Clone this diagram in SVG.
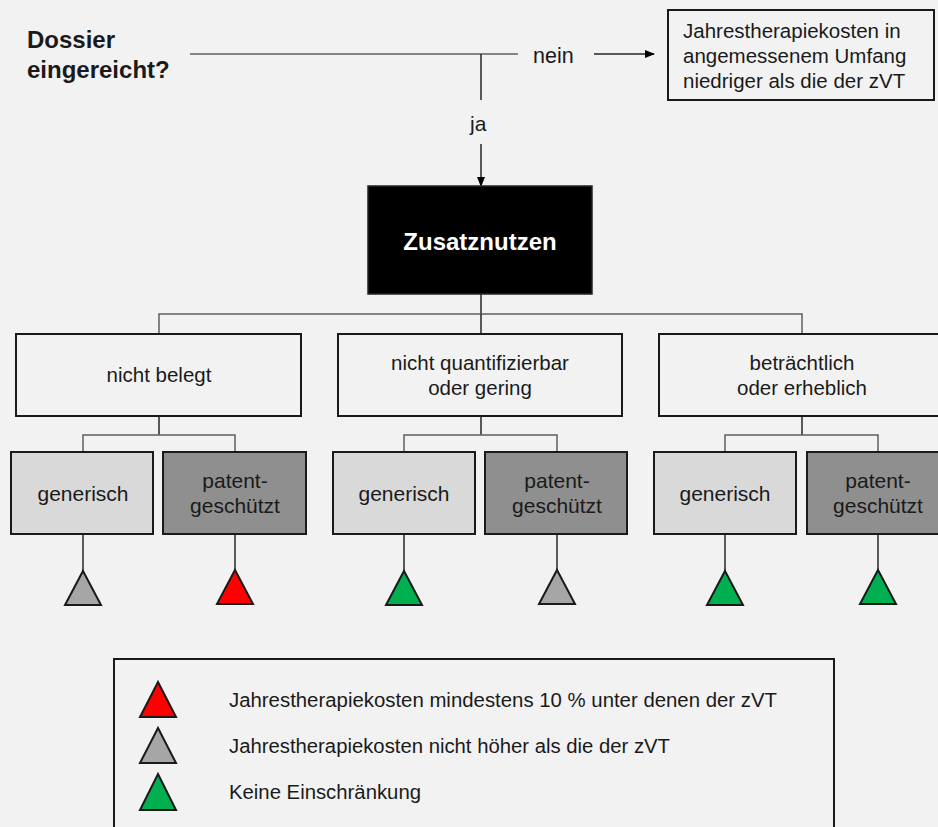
<svg xmlns="http://www.w3.org/2000/svg" width="938" height="827" viewBox="0 0 938 827">
<style>
text{font-family:"Liberation Sans",Arial,sans-serif;fill:#1a1a1a}
.t20{font-size:20.5px}
.t21{font-size:21px}
.mid{text-anchor:middle}
.box{fill:#f2f2f2;stroke:#1a1a1a;stroke-width:2}
.gen{fill:#d9d9d9;stroke:#1a1a1a;stroke-width:2}
.pat{fill:#8f8f8f;stroke:#1a1a1a;stroke-width:2}
.con{fill:none;stroke:#5f5f5f;stroke-width:1.5}
.dark{fill:none;stroke:#262626;stroke-width:1.5}
.tri{stroke:#1a1a1a;stroke-width:2;stroke-linejoin:miter}
.red{fill:#ff0000}.gray{fill:#a6a6a6}.green{fill:#00b050}
.leg{font-size:20px}
</style>
<defs>
<marker id="arr" markerWidth="10" markerHeight="10" refX="9" refY="5" orient="auto" markerUnits="userSpaceOnUse">
<path d="M0,1 L10,5 L0,9 Z" fill="#000"/>
</marker>
</defs>
<rect x="0" y="0" width="938" height="827" fill="#f2f2f2"/>

<g id="question">
<text x="27" y="48" style="font-size:24px;font-weight:bold" fill="#111">Dossier</text>
<text x="27" y="78" style="font-size:24px;font-weight:bold" fill="#111">eingereicht?</text>
</g>

<g id="connectors">
<line class="con" x1="190" y1="54" x2="518" y2="54"/>
<line class="dark" x1="481" y1="54" x2="481" y2="100"/>
<line class="dark" x1="594" y1="54" x2="654" y2="54" marker-end="url(#arr)"/>
<line class="dark" x1="481" y1="144" x2="481" y2="186" marker-end="url(#arr)"/>
<text x="533" y="63" style="font-size:21.5px">nein</text>
<text x="470" y="131" style="font-size:21px">ja</text>
<line class="dark" x1="481" y1="294" x2="481" y2="314"/>
<polyline class="con" points="159,334 159,314 802,314 802,334"/>
<line class="dark" x1="481" y1="314" x2="481" y2="334"/>
<line class="dark" x1="159" y1="416" x2="159" y2="435"/>
<polyline class="con" points="83,452 83,435 235,435 235,452"/>
<line class="dark" x1="481" y1="416" x2="481" y2="435"/>
<polyline class="con" points="404,452 404,435 557,435 557,452"/>
<line class="dark" x1="802" y1="416" x2="802" y2="435"/>
<polyline class="con" points="725,452 725,435 878,435 878,452"/>
<line class="dark" x1="83" y1="534" x2="83" y2="571"/>
<line class="dark" x1="235" y1="534" x2="235" y2="571"/>
<line class="dark" x1="404" y1="534" x2="404" y2="571"/>
<line class="dark" x1="557" y1="534" x2="557" y2="571"/>
<line class="dark" x1="725" y1="534" x2="725" y2="571"/>
<line class="dark" x1="878" y1="534" x2="878" y2="571"/>
</g>

<g id="nein-box">
<rect class="box" x="668" y="10" width="266" height="90"/>
<text class="t20" x="683" y="38">Jahrestherapiekosten in</text>
<text class="t20" x="683" y="63">angemessenem Umfang</text>
<text class="t20" x="683" y="88">niedriger als die der zVT</text>
</g>

<g id="zusatznutzen">
<rect x="368" y="186" width="224" height="108" fill="#000" stroke="#262626" stroke-width="1.5"/>
<text x="480" y="250" class="mid" style="font-size:24px;font-weight:bold;fill:#fff">Zusatznutzen</text>
</g>

<g id="nicht-belegt">
<rect class="box" x="16" y="334" width="285" height="82"/>
<text class="t20 mid" x="159" y="382">nicht belegt</text>
</g>
<g id="nicht-quantifizierbar">
<rect class="box" x="338" y="334" width="284" height="82"/>
<text class="t20 mid" x="480" y="370">nicht quantifizierbar</text>
<text class="t20 mid" x="480" y="395">oder gering</text>
</g>
<g id="betraechtlich">
<rect class="box" x="659" y="334" width="290" height="82"/>
<text class="t20 mid" x="802" y="370">beträchtlich</text>
<text class="t20 mid" x="802" y="395">oder erheblich</text>
</g>

<g id="gen1">
<rect class="gen" x="11" y="452" width="142" height="82"/>
<text class="t21 mid" x="83" y="501">generisch</text>
</g>
<g id="pat1">
<rect class="pat" x="163" y="452" width="143" height="82"/>
<text class="t21 mid" x="235" y="488">patent-</text>
<text class="t21 mid" x="235" y="513">geschützt</text>
</g>
<g id="gen2">
<rect class="gen" x="333" y="452" width="142" height="82"/>
<text class="t21 mid" x="404" y="501">generisch</text>
</g>
<g id="pat2">
<rect class="pat" x="485" y="452" width="142" height="82"/>
<text class="t21 mid" x="557" y="488">patent-</text>
<text class="t21 mid" x="557" y="513">geschützt</text>
</g>
<g id="gen3">
<rect class="gen" x="654" y="452" width="142" height="82"/>
<text class="t21 mid" x="725" y="501">generisch</text>
</g>
<g id="pat3">
<rect class="pat" x="807" y="452" width="145" height="82"/>
<text class="t21 mid" x="878" y="488">patent-</text>
<text class="t21 mid" x="878" y="513">geschützt</text>
</g>

<g id="triangles">
<polygon class="tri gray" points="83,571 101,605 65,605"/>
<polygon class="tri red" points="235,570 253,604 217,604"/>
<polygon class="tri green" points="404,571 422,605 386,605"/>
<polygon class="tri gray" points="557,570 575,604 539,604"/>
<polygon class="tri green" points="725,571 743,605 707,605"/>
<polygon class="tri green" points="878,570 896,604 860,604"/>
</g>

<g id="legend">
<rect class="box" x="114" y="659" width="720" height="180"/>
<polygon class="tri red" points="158,682 176,717 140,717"/>
<polygon class="tri gray" points="158,728 176,763 140,763"/>
<polygon class="tri green" points="158,774 176,810 140,810"/>
<text class="leg" x="229" y="707" textLength="548" lengthAdjust="spacingAndGlyphs">Jahrestherapiekosten mindestens 10 % unter denen der zVT</text>
<text class="leg" x="229" y="753" textLength="441" lengthAdjust="spacingAndGlyphs">Jahrestherapiekosten nicht höher als die der zVT</text>
<text class="leg" x="229" y="799" textLength="192" lengthAdjust="spacingAndGlyphs">Keine Einschränkung</text>
</g>
</svg>
